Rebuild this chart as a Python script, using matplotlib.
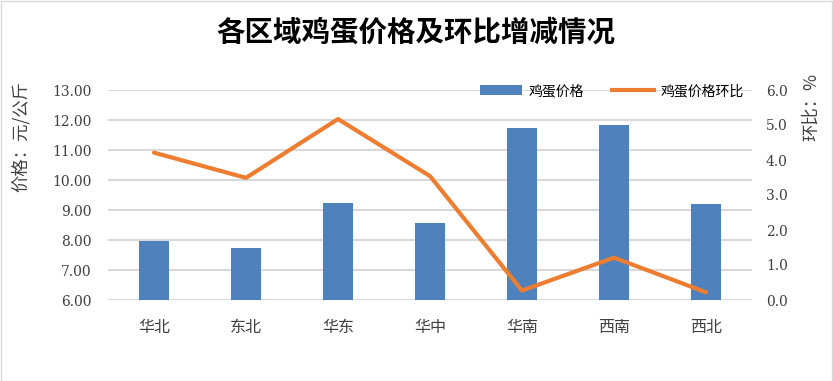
import matplotlib
matplotlib.use("Agg")
import matplotlib.pyplot as plt
from matplotlib.patches import Patch
from matplotlib.lines import Line2D

plt.rcParams['font.family'] = ['Noto Sans CJK SC', 'DejaVu Sans']

categories = ["华北", "东北", "华东", "华中", "华南", "西南", "西北"]
price = [7.97, 7.73, 9.22, 8.57, 11.72, 11.83, 9.20]
mom = [4.21, 3.49, 5.17, 3.54, 0.27, 1.21, 0.22]
left_ticks = [6, 7, 8, 9, 10, 11, 12, 13]
right_ticks = [0, 1, 2, 3, 4, 5, 6]

W, H = 833, 381
fig = plt.figure(figsize=(W / 100, H / 100), dpi=100)
ax = fig.add_axes([108 / W, 1 - 300 / H, (752 - 108) / W, (300 - 90) / H])
ax2 = ax.twinx()

x = list(range(len(categories)))
blue = "#4F81BD"
orange = "#ED7D31"
txt = "#404040"

ax.bar(x, [p - 6 for p in price], bottom=6, width=0.32, color=blue, zorder=2)
ax.set_ylim(6, 13)
ax.set_xlim(-0.5, len(categories) - 0.5)
ax.set_yticks(left_ticks)
ax.set_yticklabels([f"{v:.2f}" for v in left_ticks], fontfamily='DejaVu Serif')
ax.set_xticks(x)
ax.set_xticklabels(categories)
ax.grid(axis='y', color="#D9D9D9", linewidth=1.5, zorder=0)
ax.set_axisbelow(True)

ax2.plot(x, mom, color=orange, linewidth=3, solid_capstyle='round', zorder=3)
ax2.set_ylim(0, 6)
ax2.set_yticks(right_ticks)
ax2.set_yticklabels([f"{v:.1f}" for v in right_ticks], fontfamily='DejaVu Serif')

for a in (ax, ax2):
    for s in a.spines.values():
        s.set_visible(False)
    a.tick_params(length=0, labelsize=10, colors=txt)
ax.tick_params(axis='y', pad=12)
ax2.tick_params(axis='y', pad=10)
ax.tick_params(axis='x', pad=14, labelsize=11.5)

fig.text(416 / W, 1 - 33 / H, "各区域鸡蛋价格及环比增减情况", ha='center', va='center',
         fontsize=20.5, fontweight='bold', color="#000000")
fig.text(21 / W, 1 - 137 / H, "价格：元/公斤", rotation=90, ha='center', va='center',
         fontsize=12.5, color=txt)
fig.text(811 / W, 1 - 107 / H, "环比：%", rotation=90, ha='center', va='center',
         fontsize=12.5, color=txt)

handles = [Patch(facecolor=blue, edgecolor='none'),
           Line2D([0], [0], color=orange, linewidth=3)]
fig.legend(handles, ["鸡蛋价格", "鸡蛋价格环比"], loc='center', ncol=2,
           bbox_to_anchor=(612 / W, 1 - 91 / H), frameon=False, fontsize=10,
           handlelength=3, columnspacing=2.0, handletextpad=0.5)

fig.patches.append(matplotlib.patches.Rectangle((0.5 / W, 0.5 / H), 1 - 1.5 / W, 1 - 1.5 / H,
                   transform=fig.transFigure, fill=False, edgecolor="#D9D9D9", linewidth=1))

fig.savefig("out.png", dpi=100)
